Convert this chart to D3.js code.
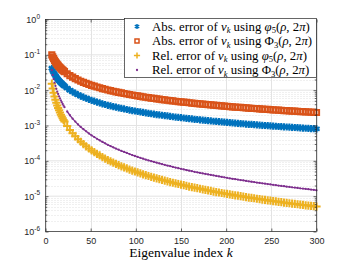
<!DOCTYPE html>
<html>
<head>
<meta charset="utf-8">
<script src="https://cdn.jsdelivr.net/npm/d3@7"></script>
<style>
	body { margin: 0; background: #fff; }
	svg { display: block; }
	.tick-label { font-family: 'Liberation Sans', Arial, sans-serif; font-size: 9px; fill: #262626; }
	.latex { font-family: 'Liberation Serif', 'Times New Roman', serif; fill: #000; }
</style>
</head>
<body>
<svg id="chart-svg" width="350" height="263"></svg>
<script>
// eigenvalue index k (dense at the start, every 3rd after 21)
const kIndex = [
	7, 8, 9, 10, 11, 12, 13, 14, 15, 16, 17, 18, 19, 20, 21,
	24, 27, 30, 33, 36, 39, 42, 45, 48, 51, 54, 57, 60, 63, 66, 69, 72, 75, 78, 81, 84, 87, 90, 93, 96, 99,
	102, 105, 108, 111, 114, 117, 120, 123, 126, 129, 132, 135, 138, 141, 144, 147, 150, 153, 156, 159, 162, 165, 168, 171, 174, 177, 180, 183, 186, 189, 192, 195, 198,
	201, 204, 207, 210, 213, 216, 219, 222, 225, 228, 231, 234, 237, 240, 243, 246, 249, 252, 255, 258, 261, 264, 267, 270, 273, 276, 279, 282, 285, 288, 291, 294, 297, 300
];
const absErrPhi5 = [
	0.0415, 0.036, 0.0319, 0.0285, 0.0258, 0.0235, 0.0216, 0.02, 0.0186, 0.0174, 0.0163, 0.0154, 0.0145, 0.0138, 0.0131,
	0.0114, 0.01, 0.00898, 0.00814, 0.00742, 0.00682, 0.00633, 0.0059, 0.0055, 0.00514, 0.00487, 0.00459, 0.00436, 0.00412, 0.00393, 0.00373, 0.00359, 0.00344, 0.0033, 0.00317, 0.00305, 0.00294, 0.00284, 0.00274, 0.00265, 0.00257,
	0.00249, 0.00242, 0.00234, 0.00228, 0.00221, 0.00215, 0.0021, 0.00204, 0.002, 0.00195, 0.0019, 0.00186, 0.00181, 0.00177, 0.00173, 0.0017, 0.00166, 0.00163, 0.00159, 0.00156, 0.00153, 0.0015, 0.00148, 0.00145, 0.00142, 0.00139, 0.00137, 0.00135, 0.00132, 0.0013, 0.00128, 0.00126, 0.00124,
	0.00122, 0.0012, 0.00118, 0.00116, 0.00115, 0.00113, 0.00112, 0.0011, 0.00108, 0.00107, 0.00106, 0.00104, 0.00103, 0.00101, 0.001, 0.000989, 0.000975, 0.000964, 0.000953, 0.000938, 0.000928, 0.000917, 0.000906, 0.000895, 0.000884, 0.000877, 0.000866, 0.000855, 0.000847, 0.000837, 0.000829, 0.000818, 0.000811, 0.000801
];
const absErrPhi3 = [
	0.1, 0.0875, 0.0778, 0.07, 0.0636, 0.0583, 0.0538, 0.05, 0.0467, 0.0438, 0.0412, 0.0389, 0.0368, 0.035, 0.0333,
	0.0292, 0.0259, 0.0233, 0.0212, 0.0194, 0.0179, 0.0167, 0.0156, 0.0146, 0.0137, 0.013, 0.0123, 0.0117, 0.0111, 0.0106, 0.0101, 0.00972, 0.00933, 0.00897, 0.00864, 0.00833, 0.00805, 0.00778, 0.00753, 0.00729, 0.00707,
	0.00686, 0.00667, 0.00648, 0.00631, 0.00614, 0.00598, 0.00583, 0.00569, 0.00556, 0.00543, 0.0053, 0.00519, 0.00507, 0.00496, 0.00486, 0.00476, 0.00467, 0.00458, 0.00449, 0.0044, 0.00432, 0.00424, 0.00417, 0.00409, 0.00402, 0.00395, 0.00389, 0.00383, 0.00376, 0.0037, 0.00365, 0.00359, 0.00354,
	0.00348, 0.00343, 0.00338, 0.00333, 0.00329, 0.00324, 0.0032, 0.00315, 0.00311, 0.00307, 0.00303, 0.00299, 0.00295, 0.00292, 0.00288, 0.00285, 0.00281, 0.00278, 0.00275, 0.00271, 0.00268, 0.00265, 0.00262, 0.00259, 0.00256, 0.00254, 0.00251, 0.00248, 0.00246, 0.00243, 0.00241, 0.00238, 0.00236, 0.00233
];
const relErrPhi5 = [
	0.0153, 0.0111, 0.00846, 0.00663, 0.00534, 0.00438, 0.00367, 0.00312, 0.00268, 0.00233, 0.00203, 0.0018, 0.0016, 0.00144, 0.00129,
	0.000973, 0.000751, 0.000603, 0.000494, 0.00041, 0.000347, 0.000298, 0.000258, 0.000225, 0.000197, 0.000176, 0.000157, 0.000142, 0.000127, 0.000116, 0.000105, 9.66e-5, 8.88e-5, 8.18e-5, 7.56e-5, 7.01e-5, 6.52e-5, 6.08e-5, 5.67e-5, 5.31e-5, 4.99e-5,
	4.69e-5, 4.43e-5, 4.16e-5, 3.94e-5, 3.72e-5, 3.52e-5, 3.35e-5, 3.18e-5, 3.04e-5, 2.89e-5, 2.76e-5, 2.64e-5, 2.51e-5, 2.4e-5, 2.3e-5, 2.21e-5, 2.11e-5, 2.04e-5, 1.95e-5, 1.87e-5, 1.8e-5, 1.74e-5, 1.68e-5, 1.62e-5, 1.56e-5, 1.5e-5, 1.45e-5, 1.41e-5, 1.35e-5, 1.31e-5, 1.27e-5, 1.23e-5, 1.19e-5,
	1.16e-5, 1.12e-5, 1.09e-5, 1.05e-5, 1.03e-5, 9.96e-6, 9.73e-6, 9.43e-6, 9.13e-6, 8.93e-6, 8.73e-6, 8.45e-6, 8.27e-6, 8e-6, 7.83e-6, 7.64e-6, 7.44e-6, 7.27e-6, 7.1e-6, 6.91e-6, 6.76e-6, 6.6e-6, 6.45e-6, 6.3e-6, 6.15e-6, 6.04e-6, 5.9e-6, 5.76e-6, 5.64e-6, 5.52e-6, 5.41e-6, 5.28e-6, 5.19e-6, 5.07e-6
];
const relErrPhi3 = [
	0.0369, 0.027, 0.0206, 0.0163, 0.0132, 0.0109, 0.00913, 0.00779, 0.00672, 0.00586, 0.00514, 0.00456, 0.00406, 0.00365, 0.00329,
	0.00249, 0.00195, 0.00156, 0.00129, 0.00107, 0.00091, 0.000786, 0.000683, 0.000597, 0.000526, 0.000471, 0.000421, 0.00038, 0.000343, 0.000312, 0.000284, 0.000262, 0.000241, 0.000222, 0.000206, 0.000191, 0.000178, 0.000167, 0.000156, 0.000146, 0.000137,
	0.000129, 0.000122, 0.000115, 0.000109, 0.000103, 9.8e-5, 9.31e-5, 8.86e-5, 8.45e-5, 8.06e-5, 7.69e-5, 7.36e-5, 7.03e-5, 6.73e-5, 6.45e-5, 6.19e-5, 5.95e-5, 5.72e-5, 5.5e-5, 5.28e-5, 5.09e-5, 4.9e-5, 4.74e-5, 4.56e-5, 4.41e-5, 4.26e-5, 4.12e-5, 3.99e-5, 3.85e-5, 3.73e-5, 3.62e-5, 3.51e-5, 3.41e-5,
	3.3e-5, 3.2e-5, 3.11e-5, 3.02e-5, 2.94e-5, 2.86e-5, 2.78e-5, 2.7e-5, 2.63e-5, 2.56e-5, 2.5e-5, 2.43e-5, 2.37e-5, 2.31e-5, 2.25e-5, 2.2e-5, 2.15e-5, 2.1e-5, 2.05e-5, 2e-5, 1.95e-5, 1.91e-5, 1.86e-5, 1.82e-5, 1.78e-5, 1.75e-5, 1.71e-5, 1.67e-5, 1.64e-5, 1.6e-5, 1.57e-5, 1.54e-5, 1.51e-5, 1.47e-5
];

const xTicks = [ 0, 50, 100, 150, 200, 250, 300 ];
const yTickExponents = [ -6, -5, -4, -3, -2, -1, 0 ];
const xLabel = 'Eigenvalue index ';
const legendPrefixes = [ 'Abs.', 'Abs.', 'Rel.', 'Rel.' ];
const legendFunctions = [ 'φ', 'Φ', 'φ', 'Φ' ];
const legendSubscripts = [ '5', '3', '5', '3' ];

const PLOT = { left: 45.5, right: 316.5, top: 19.5, bottom: 231.5 };
const AXIS_COLOR = '#262626';

const svg = d3.select('#chart-svg');

const xScale = d3.scaleLinear().domain([ 0, 300 ]).range([ PLOT.left, PLOT.right ]);
const yScale = d3.scaleLog().domain([ 1e-6, 1 ]).range([ PLOT.bottom, PLOT.top ]);

// Grid: major lines solid, minor (log decades) dotted
const minorValues = [];
yTickExponents.slice(0, -1).forEach((e) => {
	for (let m = 2; m <= 9; m++) minorValues.push(m * Math.pow(10, e));
});

const gridG = svg.append('g').attr('id', 'grid');
gridG
	.selectAll('line.minor')
	.data(minorValues)
	.enter()
	.append('line')
	.attr('x1', PLOT.left)
	.attr('x2', PLOT.right)
	.attr('y1', (d) => Math.round(yScale(d)) + 0.5)
	.attr('y2', (d) => Math.round(yScale(d)) + 0.5)
	.attr('stroke', '#d9d9d9')
	.attr('stroke-width', 0.8)
	.attr('stroke-dasharray', '1,2');
gridG
	.selectAll('line.ymajor')
	.data(yTickExponents)
	.enter()
	.append('line')
	.attr('x1', PLOT.left)
	.attr('x2', PLOT.right)
	.attr('y1', (e) => yScale(Math.pow(10, e)))
	.attr('y2', (e) => yScale(Math.pow(10, e)))
	.attr('stroke', '#e3e3e3')
	.attr('stroke-width', 1);
gridG
	.selectAll('line.xmajor')
	.data(xTicks)
	.enter()
	.append('line')
	.attr('x1', (d) => Math.round(xScale(d)) + 0.5)
	.attr('x2', (d) => Math.round(xScale(d)) + 0.5)
	.attr('y1', PLOT.top)
	.attr('y2', PLOT.bottom)
	.attr('stroke', '#e3e3e3')
	.attr('stroke-width', 1);

// Data series
const points = (values) => kIndex.map((k, i) => ({ k: k, v: values[i] })).filter((d) => d.v !== undefined);
const series = [
	{ values: absErrPhi5, color: '#0072BD', type: d3.symbolAsterisk, size: 36, fill: 'none', stroke: 2.1, legendScale: 0.5 },
	{ values: absErrPhi3, color: '#D95319', type: d3.symbolSquare, size: 27, fill: 'none', stroke: 2, legendScale: 0.6 },
	{ values: relErrPhi5, color: '#EDB120', type: d3.symbolPlus, size: 24, fill: 'none', stroke: 2, legendScale: 0.6 },
	{ values: relErrPhi3, color: '#7E2F8E', type: d3.symbolCircle, size: 4, fill: '#7E2F8E', stroke: 0, legendScale: 1 }
];

// purple dots are so dense that they read as a thin line
svg
	.append('path')
	.datum(points(relErrPhi3).filter((d) => d.k >= 24))
	.attr('fill', 'none')
	.attr('stroke', '#7E2F8E')
	.attr('stroke-width', 1.3)
	.attr('d', d3.line().x((d) => xScale(d.k)).y((d) => yScale(d.v)));

series.forEach((s) => {
	svg
		.append('g')
		.selectAll('path')
		.data(points(s.values))
		.enter()
		.append('path')
		.attr('d', d3.symbol().type(s.type).size(s.size))
		.attr('transform', (d) => 'translate(' + xScale(d.k) + ',' + yScale(d.v) + ')')
		.attr('fill', s.fill)
		.attr('stroke', s.stroke ? s.color : 'none')
		.attr('stroke-width', s.stroke);
});

// Axes box with inward ticks
const axisG = svg.append('g').attr('id', 'axes');
axisG
	.append('rect')
	.attr('x', PLOT.left)
	.attr('y', PLOT.top)
	.attr('width', PLOT.right - PLOT.left)
	.attr('height', PLOT.bottom - PLOT.top)
	.attr('fill', 'none')
	.attr('stroke', AXIS_COLOR)
	.attr('stroke-width', 0.7);

const xAxis = d3.axisBottom(xScale).tickValues(xTicks).tickSizeInner(-3).tickSizeOuter(0).tickPadding(6);
axisG.append('g').attr('id', 'x-axis').attr('transform', 'translate(0,' + PLOT.bottom + ')').call(xAxis);
const xAxisTop = d3.axisTop(xScale).tickValues(xTicks).tickSizeInner(-3).tickSizeOuter(0).tickFormat('');
axisG.append('g').attr('transform', 'translate(0,' + PLOT.top + ')').call(xAxisTop);

const yMajor = yTickExponents.map((e) => Math.pow(10, e));
const yAxis = d3.axisLeft(yScale).tickValues(yMajor).tickSizeInner(-3).tickSizeOuter(0).tickFormat('');
axisG.append('g').attr('id', 'y-axis').attr('transform', 'translate(' + PLOT.left + ',0)').call(yAxis);
const yAxisMinor = d3.axisLeft(yScale).tickValues(minorValues).tickSizeInner(-1.8).tickSizeOuter(0).tickFormat('');
axisG.append('g').attr('transform', 'translate(' + PLOT.left + ',0)').call(yAxisMinor);
const yAxisRight = d3.axisRight(yScale).tickValues(yMajor).tickSizeInner(-3).tickSizeOuter(0).tickFormat('');
axisG.append('g').attr('transform', 'translate(' + PLOT.right + ',0)').call(yAxisRight);
const yAxisRightMinor = d3.axisRight(yScale).tickValues(minorValues).tickSizeInner(-1.8).tickSizeOuter(0).tickFormat('');
axisG.append('g').attr('transform', 'translate(' + PLOT.right + ',0)').call(yAxisRightMinor);

axisG.selectAll('.domain').remove();
axisG.selectAll('.tick line').attr('stroke', AXIS_COLOR).attr('stroke-width', 0.7);
axisG
	.selectAll('#x-axis .tick text')
	.attr('class', 'tick-label')
	.attr('font-family', null)
	.attr('font-size', null)
	.attr('fill', null);

// y tick labels as 10^e
const yLabels = axisG
	.selectAll('text.ylab')
	.data(yTickExponents)
	.enter()
	.append('text')
	.attr('class', 'tick-label')
	.attr('x', 40)
	.attr('y', (e) => yScale(Math.pow(10, e)) + 3.5)
	.attr('text-anchor', 'end');
yLabels.append('tspan').text('10');
yLabels.append('tspan').attr('dy', -4.5).style('font-size', '6.5px').text((e) => (e < 0 ? '-' + -e : e));

// x axis label
const xLabelText = svg
	.append('text')
	.attr('class', 'latex')
	.attr('x', xScale(150))
	.attr('y', 257)
	.attr('text-anchor', 'middle')
	.style('font-size', '13.5px');
xLabelText.append('tspan').text(xLabel);
xLabelText.append('tspan').style('font-style', 'italic').text('k');

// Legend
const legendG = svg.append('g').attr('id', 'legend');
legendG
	.append('rect')
	.attr('x', 124.5)
	.attr('y', 18.5)
	.attr('width', 192)
	.attr('height', 59)
	.attr('fill', '#fff')
	.attr('stroke', AXIS_COLOR)
	.attr('stroke-width', 0.7);

series.forEach((s, i) => {
	const cy = 26.5 + i * 14.5;
	legendG
		.append('path')
		.attr('d', d3.symbol().type(s.type).size(s.size * s.legendScale))
		.attr('transform', 'translate(137,' + cy + ')')
		.attr('fill', s.fill)
		.attr('stroke', s.stroke ? s.color : 'none')
		.attr('stroke-width', Math.min(s.stroke, 1.5));
	const t = legendG
		.append('text')
		.attr('class', 'latex')
		.attr('x', 152)
		.attr('y', cy + 4)
		.style('font-size', '12.8px');
	t.append('tspan').text(legendPrefixes[i] + ' error of ');
	t.append('tspan').style('font-style', 'italic').text('ν');
	t.append('tspan').attr('dy', 2.5).style('font-size', '8.5px').style('font-style', 'italic').text('k');
	t.append('tspan').attr('dy', -2.5).text(' using ');
	t.append('tspan').style('font-style', legendFunctions[i] === 'φ' ? 'italic' : 'normal').text(legendFunctions[i]);
	t.append('tspan').attr('dy', 2.5).style('font-size', '8.5px').text(legendSubscripts[i]);
	t.append('tspan').attr('dy', -2.5).text('(');
	t.append('tspan').style('font-style', 'italic').text('ρ');
	t.append('tspan').text(', 2');
	t.append('tspan').style('font-style', 'italic').text('π');
	t.append('tspan').text(')');
});
</script>
</body>
</html>
